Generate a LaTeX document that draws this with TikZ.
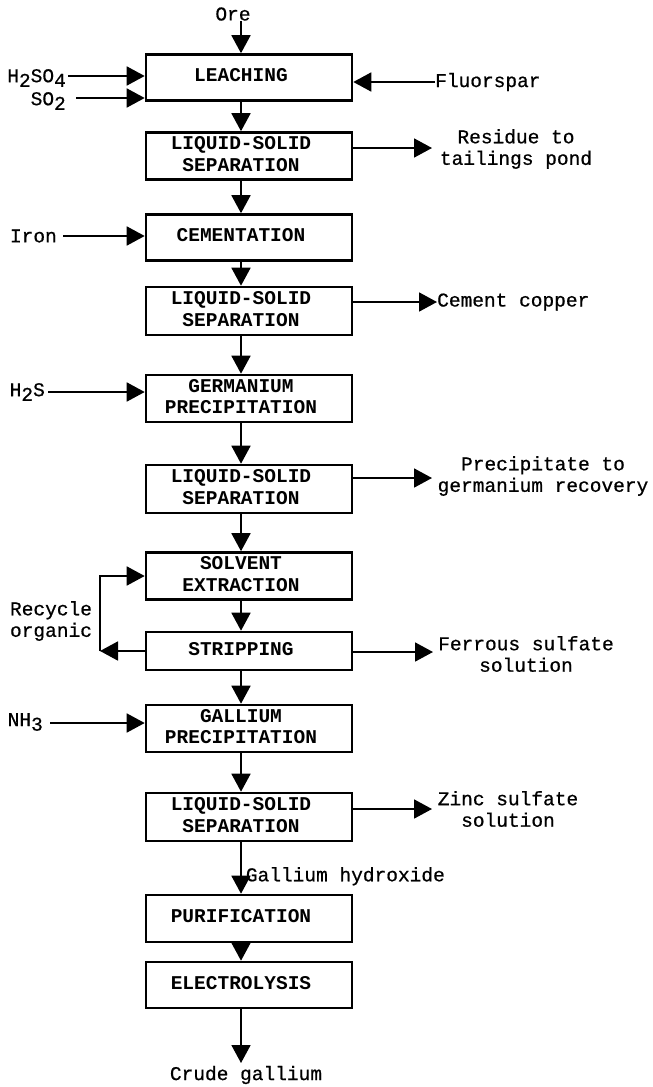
\documentclass[tikz,border=0pt]{standalone}
\usepackage{fontspec}
\setmainfont{Liberation Mono}
\newfontfamily\labfont{Liberation Mono}[FakeBold=0.7]
\usepackage{tikz}
\usetikzlibrary{arrows.meta}

\newcommand{\chartfont}{\fontsize{19.5}{21.5}\selectfont}
\newcommand{\dn}[1]{\raisebox{-0.45ex}{#1}}
\newcommand{\stagetext}[1]{\hspace*{-16pt}\begin{tabular}{@{}c@{}}#1\end{tabular}}

\tikzset{
    stage/.style={draw, line width=2.6pt, minimum width=206pt, minimum height=46pt,
        inner sep=2pt, font=\chartfont\bfseries},
    flow/.style={line width=1.8pt, -{Triangle[length=18pt, width=19pt]}},
    lbl/.style={inner sep=0pt, align=center, font=\chartfont\labfont}
}

\begin{document}
\begin{tikzpicture}[x=1pt, y=-1pt]
        \useasboundingbox (0, 0) rectangle (653, 1087);

        % process stages
        \node[stage] (leach) at (249, 77.5) {\stagetext{LEACHING}};
        \node[stage, minimum height=47pt] (sep1) at (249, 156) {\stagetext{LIQUID-SOLID\\SEPARATION}};
        \node[stage] (cement) at (249, 237.5) {\stagetext{CEMENTATION}};
        \node[stage, minimum height=48pt] (sep2) at (249, 311) {\stagetext{LIQUID-SOLID\\SEPARATION}};
        \node[stage, minimum height=47pt] (germ) at (249, 398.5) {\stagetext{GERMANIUM\\PRECIPITATION}};
        \node[stage, minimum height=48pt] (sep3) at (249, 489) {\stagetext{LIQUID-SOLID\\SEPARATION}};
        \node[stage, minimum height=45pt] (solvent) at (249, 576) {\stagetext{SOLVENT\\EXTRACTION}};
        \node[stage, minimum height=38pt] (strip) at (249, 651) {\stagetext{STRIPPING}};
        \node[stage, minimum height=47pt] (gall) at (249, 728.5) {\stagetext{GALLIUM\\PRECIPITATION}};
        \node[stage, minimum height=48pt] (sep4) at (249, 817) {\stagetext{LIQUID-SOLID\\SEPARATION}};
        \node[stage, minimum height=47pt] (purif) at (249, 918.5) {\stagetext{PURIFICATION}};
        \node[stage] (electro) at (249, 985) {\stagetext{ELECTROLYSIS}};

        % main line
        \draw[flow] ([xshift=-8pt]leach.south) -- ([xshift=-8pt]sep1.north);
        \draw[flow] ([xshift=-8pt]sep1.south) -- ([xshift=-8pt]cement.north);
        \draw[flow] ([xshift=-8pt]cement.south) -- ([xshift=-8pt]sep2.north);
        \draw[flow] ([xshift=-8pt]sep2.south) -- ([xshift=-8pt]germ.north);
        \draw[flow] ([xshift=-8pt]germ.south) -- ([xshift=-8pt]sep3.north);
        \draw[flow] ([xshift=-8pt]sep3.south) -- ([xshift=-8pt]solvent.north);
        \draw[flow] ([xshift=-8pt]solvent.south) -- ([xshift=-8pt]strip.north);
        \draw[flow] ([xshift=-8pt]strip.south) -- ([xshift=-8pt]gall.north);
        \draw[flow] ([xshift=-8pt]gall.south) -- ([xshift=-8pt]sep4.north);
        \draw[flow] ([xshift=-8pt]sep4.south) -- ([xshift=-8pt]purif.north)
            node[lbl, anchor=west, pos=0.66, xshift=4pt] (ghyd) {Gallium hydroxide};
        \draw[flow] ([xshift=-8pt]purif.south) -- ([xshift=-8pt]electro.north);

        % feeds
        \node[lbl] (ore) at (233, 14) {Ore};
        \draw[flow] (ore.south -| leach.north) ++(-8pt, 0) coordinate (oretop) -- ([xshift=-8pt]leach.north);

        \node[lbl, anchor=east] (acid) at (66, 78) {H\dn{2}SO\dn{4}};
        \coordinate (acidin) at (68, 76);
        \draw[flow] (acidin) -- (acidin -| leach.west);
        \node[lbl, anchor=east] (sulf) at (66, 101) {SO\dn{2}};
        \coordinate (sulfin) at (76, 98);
        \draw[flow] (sulfin) -- (sulfin -| leach.west);

        \node[lbl, anchor=west] (fluor) at (435, 82) {Fluorspar};
        \draw[flow] (fluor.west) -- (fluor.west -| leach.east);

        \node[lbl, anchor=east] (iron) at (57, 236) {Iron};
        \draw[flow] ([xshift=-6pt]iron.east) ++(12pt, 0) -- (iron.east -| cement.west);

        \node[lbl, anchor=east] (hs) at (45, 392) {H\dn{2}S};
        \coordinate (hsin) at (48, 392);
        \draw[flow] (hsin) -- (hsin -| germ.west);

        \node[lbl, anchor=east] (nh) at (43, 722) {NH\dn{3}};
        \coordinate (nhin) at (50, 723);
        \draw[flow] (nhin) -- (nhin -| gall.west);

        % products
        \node[lbl] (resid) at (516, 149) {Residue to\\tailings pond};
        \coordinate (residtip) at (432, 148);
        \draw[flow] (residtip -| sep1.east) -- (residtip);

        \node[lbl, anchor=west] (copper) at (437, 302) {Cement copper};
        \draw[flow] (copper.west -| sep2.east) -- (copper.west);

        \node[lbl] (precip) at (543, 476) {Precipitate to\\germanium recovery};
        \coordinate (preciptip) at (432, 478);
        \draw[flow] (preciptip -| sep3.east) -- (preciptip);

        \node[lbl] (ferr) at (526, 654) {Ferrous sulfate\\solution};
        \coordinate (ferrtip) at (433, 652);
        \draw[flow] (ferrtip -| strip.east) -- (ferrtip);

        \node[lbl] (zinc) at (508, 809) {Zinc sulfate\\solution};
        \coordinate (zinctip) at (432, 809);
        \draw[flow] (zinctip -| sep4.east) -- (zinctip);

        \node[lbl] (crude) at (246, 1075) {Crude gallium};
        \coordinate (crudetip) at (241, 1063);
        \draw[flow] (crudetip |- electro.south) -- (crudetip);

        % organic recycle
        \node[lbl, align=left] (recyc) at (51, 621) {Recycle\\organic};
        \coordinate (loop) at (100, 651);
        \draw[flow] (strip.west) -- (loop);
        \draw[flow] (loop) |- (solvent.west);
    \end{tikzpicture}
\end{document}
